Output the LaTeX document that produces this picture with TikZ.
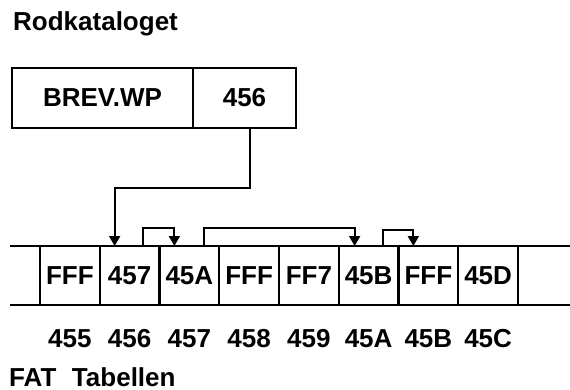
\documentclass[tikz,border=0pt]{standalone}
\usepackage{fontspec}
\setmainfont{Liberation Sans}
\usetikzlibrary{arrows.meta}
\begin{document}
\begin{tikzpicture}[x=1pt,y=-1pt, line width=2.4pt,
  every node/.style={font=\fontsize{26}{30}\selectfont\bfseries},
  box/.style={draw, minimum height=60pt, inner sep=0pt, outer sep=0pt, anchor=north west},
  cell/.style={box, minimum height=59pt, minimum width=59.75pt},
  lbl/.style={anchor=base, inner sep=0pt},
  link/.style={-{Triangle[width=11pt,length=10pt]}, line width=2pt}]
\useasboundingbox (0,0) rectangle (570,390);
\node[lbl, anchor=base west] (title) at (12,31) {Rodkataloget};
\node[box, minimum width=181pt] (name) at (12,68) {BREV.WP};
\node[box, minimum width=103pt] (cl) at (193,68) {456};
\coordinate (tl) at (10,246);
\coordinate (tr) at (570,246);
\coordinate (bl) at (10,305);
\coordinate (br) at (570,305);
\draw (tl) -- (tr);
\draw (bl) -- (br);
\foreach \i/\t/\n in {1/FFF/455,2/457/456,3/45A/457,4/FFF/458,5/FF7/459,6/45B/45A,7/FFF/45B,8/45D/45C}{
  \node[cell] (c\i) at ({40+59.75*(\i-1)},246) {\t};
  \node[lbl] (n\i) at (c\i.center |- 0,347) {\n};
}
\draw[link] ([xshift=5.5pt]cl.south) -- ++(0,60) -| ([xshift=-15pt]c2.north);
\draw[link] ([xshift=13pt]c2.north) -- ++(0,-18) -| ([xshift=-15pt]c3.north);
\draw[link] ([xshift=14.5pt]c3.north) -- ++(0,-18) -| ([xshift=-14pt]c6.north);
\draw[link] ([xshift=14.5pt]c6.north) -- ++(0,-16) -| ([xshift=-15pt]c7.north);
\node[lbl, anchor=base west] (fat) at (8,386) {FAT\hspace{0.6em}Tabellen};
\end{tikzpicture}
\end{document}
